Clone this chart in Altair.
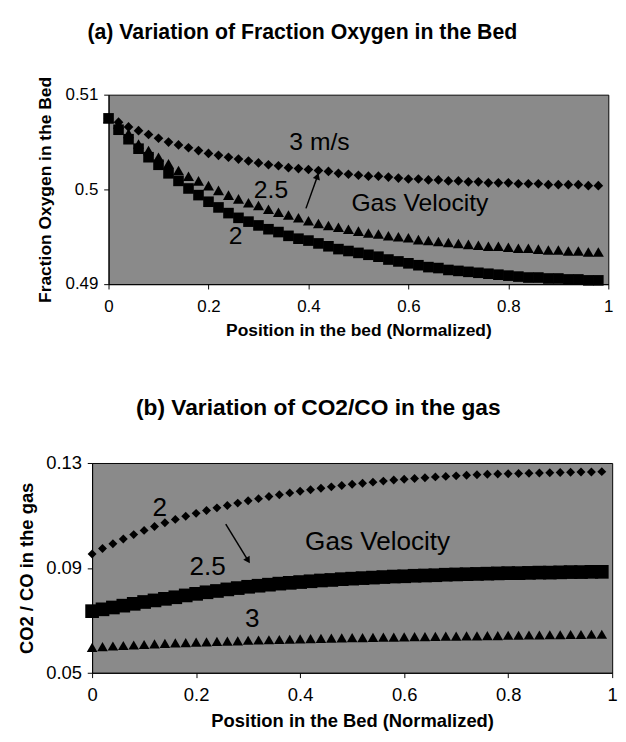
import altair as alt
import pandas as pd

FONT = "Liberation Sans"
GRAY = "#8a8a8a"

# ---------------- data ----------------
pos = [0.00, 0.02, 0.04, 0.06, 0.08, 0.10, 0.12, 0.14, 0.16, 0.18,
       0.20, 0.22, 0.24, 0.26, 0.28, 0.30, 0.32, 0.34, 0.36, 0.38,
       0.40, 0.42, 0.44, 0.46, 0.48, 0.50, 0.52, 0.54, 0.56, 0.58,
       0.60, 0.62, 0.64, 0.66, 0.68, 0.70, 0.72, 0.74, 0.76, 0.78,
       0.80, 0.82, 0.84, 0.86, 0.88, 0.90, 0.92, 0.94, 0.96, 0.98]

# (a) fraction oxygen
a_v3 = [0.5075, 0.5071, 0.5066, 0.5062, 0.5058, 0.5054, 0.5050, 0.5047, 0.5044, 0.5041,
        0.5038, 0.5036, 0.5034, 0.5032, 0.5030, 0.5028, 0.5026, 0.5025, 0.5023, 0.5022,
        0.5021, 0.5020, 0.5019, 0.5017, 0.5016, 0.5015, 0.5014, 0.5014, 0.5013, 0.5012,
        0.5011, 0.5011, 0.5010, 0.5010, 0.5009, 0.5009, 0.5008, 0.5008, 0.5007, 0.5007,
        0.5007, 0.5006, 0.5006, 0.5006, 0.5005, 0.5005, 0.5005, 0.5005, 0.5004, 0.5004]
a_v25 = [0.5075, 0.5069, 0.5059, 0.5048, 0.5041, 0.5034, 0.5027, 0.5020, 0.5014, 0.5009,
         0.5004, 0.4999, 0.4994, 0.4990, 0.4986, 0.4983, 0.4979, 0.4976, 0.4973, 0.4970,
         0.4967, 0.4964, 0.4962, 0.4960, 0.4958, 0.4956, 0.4954, 0.4953, 0.4951, 0.4950,
         0.4949, 0.4947, 0.4946, 0.4945, 0.4944, 0.4943, 0.4942, 0.4941, 0.4940, 0.4940,
         0.4939, 0.4938, 0.4938, 0.4937, 0.4936, 0.4936, 0.4935, 0.4935, 0.4934, 0.4934]
a_v2 = [0.5075, 0.5063, 0.5053, 0.5043, 0.5034, 0.5026, 0.5017, 0.5009, 0.5001, 0.4994,
        0.4987, 0.4981, 0.4975, 0.4970, 0.4966, 0.4962, 0.4958, 0.4955, 0.4951, 0.4948,
        0.4946, 0.4943, 0.4940, 0.4937, 0.4935, 0.4933, 0.4931, 0.4929, 0.4926, 0.4924,
        0.4922, 0.4920, 0.4918, 0.4917, 0.4915, 0.4914, 0.4913, 0.4912, 0.4911, 0.4910,
        0.4909, 0.4908, 0.4907, 0.4907, 0.4906, 0.4906, 0.4905, 0.4905, 0.4904, 0.4904]

# (b) CO2/CO
b_v2 = [0.0953, 0.0974, 0.0992, 0.1010, 0.1027, 0.1043, 0.1058, 0.1072, 0.1085, 0.1097,
        0.1108, 0.1119, 0.1129, 0.1138, 0.1147, 0.1156, 0.1164, 0.1172, 0.1179, 0.1186,
        0.1192, 0.1198, 0.1204, 0.1209, 0.1214, 0.1219, 0.1223, 0.1227, 0.1231, 0.1235,
        0.1238, 0.1241, 0.1244, 0.1247, 0.1249, 0.1251, 0.1253, 0.1255, 0.1257, 0.1258,
        0.1259, 0.1260, 0.1261, 0.1262, 0.1263, 0.1264, 0.1265, 0.1266, 0.1266, 0.1267]
b_v25 = [0.0735, 0.0742, 0.0749, 0.0756, 0.0763, 0.0770, 0.0776, 0.0782, 0.0788, 0.0795,
         0.0801, 0.0807, 0.0812, 0.0818, 0.0823, 0.0828, 0.0832, 0.0836, 0.0840, 0.0843,
         0.0846, 0.0849, 0.0852, 0.0854, 0.0857, 0.0859, 0.0861, 0.0863, 0.0865, 0.0867,
         0.0868, 0.0870, 0.0871, 0.0872, 0.0874, 0.0875, 0.0876, 0.0877, 0.0878, 0.0879,
         0.0880, 0.0880, 0.0881, 0.0882, 0.0882, 0.0883, 0.0884, 0.0884, 0.0885, 0.0885]
b_v3 = [0.0597, 0.0600, 0.0602, 0.0604, 0.0606, 0.0608, 0.0610, 0.0612, 0.0614, 0.0615,
        0.0617, 0.0618, 0.0620, 0.0621, 0.0622, 0.0624, 0.0625, 0.0626, 0.0627, 0.0628,
        0.0629, 0.0630, 0.0631, 0.0632, 0.0633, 0.0634, 0.0634, 0.0635, 0.0636, 0.0636,
        0.0637, 0.0638, 0.0638, 0.0639, 0.0640, 0.0640, 0.0641, 0.0641, 0.0642, 0.0642,
        0.0643, 0.0643, 0.0644, 0.0644, 0.0645, 0.0645, 0.0646, 0.0646, 0.0647, 0.0647]

x_ticks = [0, 0.2, 0.4, 0.6, 0.8, 1]
a_y_ticks = [0.49, 0.50, 0.51]
b_y_ticks = [0.05, 0.09, 0.13]

# annotations (data coordinates)
a_text = ["3 m/s", "2.5", "2", "Gas Velocity"]
a_text_x = [0.422, 0.325, 0.254, 0.623]
a_text_y = [0.5050, 0.4999, 0.4951, 0.4985]
a_arrow_x = [0.395, 0.418]
a_arrow_y = [0.4980, 0.5014]

b_text = ["2", "2.5", "3", "Gas Velocity"]
b_text_x = [0.130, 0.222, 0.308, 0.549]
b_text_y = [0.1128, 0.0902, 0.0704, 0.0999]
b_arrow_x = [0.257, 0.300]
b_arrow_y = [0.1067, 0.0928]


def axis(title, values, label_size, title_size, lp, tp):
    return alt.Axis(values=values, format="~g", title=title, grid=False,
                    labelFont=FONT, titleFont=FONT, labelFontSize=label_size,
                    titleFontSize=title_size, titleFontWeight="bold",
                    labelColor="black", titleColor="black", domainColor="black",
                    tickColor="black", tickSize=5, labelPadding=lp, titlePadding=tp,
                    labelFlush=False, labelOverlap=False)


def panel(series, ydom, yticks, xtitle, ytitle, w, h, label_size, title_size,
          texts, tx, ty, ann_size, ax, ay, head_angle, head_size,
          title, tsize, tdx, toff, ytp):
    xs = alt.Scale(domain=[0, 1], nice=False, zero=False)
    ys = alt.Scale(domain=ydom, nice=False, zero=False)
    xa = axis(xtitle, x_ticks, label_size, title_size, 9, 8)
    ya = axis(ytitle, yticks, label_size, title_size, 6, ytp)
    layers = []
    for vals, shape, size in series:
        df = pd.DataFrame({"x": pos, "y": vals})
        layers.append(
            alt.Chart(df).mark_point(shape=shape, size=size, filled=True,
                                     color="black", opacity=1)
            .encode(x=alt.X("x:Q", scale=xs, axis=xa),
                    y=alt.Y("y:Q", scale=ys, axis=ya))
        )
    tdf = pd.DataFrame({"x": tx, "y": ty, "t": texts})
    layers.append(
        alt.Chart(tdf).mark_text(font=FONT, fontSize=ann_size, color="black",
                                 align="center", baseline="middle")
        .encode(x="x:Q", y="y:Q", text="t:N")
    )
    adf = pd.DataFrame({"x": ax, "y": ay})
    layers.append(
        alt.Chart(adf).mark_line(color="black", strokeWidth=1.5)
        .encode(x="x:Q", y="y:Q")
    )
    hdf = pd.DataFrame({"x": ax[1:], "y": ay[1:]})
    layers.append(
        alt.Chart(hdf).mark_point(shape="triangle-up", size=head_size, filled=True,
                                  color="black", opacity=1, angle=head_angle)
        .encode(x="x:Q", y="y:Q")
    )
    return alt.layer(*layers).properties(
        width=w, height=h,
        view=alt.ViewBackground(fill=GRAY, stroke="black", strokeWidth=1),
        title=alt.TitleParams(title, font=FONT, fontSize=tsize, fontWeight="bold",
                              color="black", anchor="middle", dx=tdx, offset=toff),
    )


chart_a = panel(
    [(a_v3, "diamond", 100), (a_v25, "triangle-up", 130), (a_v2, "square", 120)],
    [0.49, 0.51], a_y_ticks, "Position in the bed (Normalized)",
    "Fraction Oxygen in the Bed", 517, 196, 17.5, 18,
    a_text, a_text_x, a_text_y, 25.5, a_arrow_x, a_arrow_y, 19, 60,
    "(a)  Variation of Fraction Oxygen in the Bed", 22, -58, 34, 11,
)

chart_b = panel(
    [(b_v2, "diamond", 85), (b_v25, "square", 200), (b_v3, "triangle-up", 120)],
    [0.05, 0.13], b_y_ticks, "Position in the Bed (Normalized)",
    "CO2 / CO in the gas", 538, 217, 19, 19,
    b_text, b_text_x, b_text_y, 27, b_arrow_x, b_arrow_y, 148, 60,
    "(b)  Variation of CO2/CO in the gas", 23.5, -35, 36, 10,
)


def spacer(w):
    return alt.Chart(pd.DataFrame({"v": [0]})).mark_point(opacity=0).encode(
        x=alt.X("v:Q", axis=None), y=alt.Y("v:Q", axis=None)
    ).properties(width=w, height=1,
                 view=alt.ViewBackground(stroke="transparent", fill="transparent"))


top = alt.hconcat(spacer(23), chart_a, spacing=0)
bottom = alt.hconcat(spacer(1), chart_b, spacing=0)

chart = alt.vconcat(top, bottom, spacing=58).properties(
    padding={"left": 2, "top": 0, "right": 0, "bottom": 0}
).configure(font=FONT)

chart.save("out.html", embed_options={"renderer": "svg", "actions": False})
